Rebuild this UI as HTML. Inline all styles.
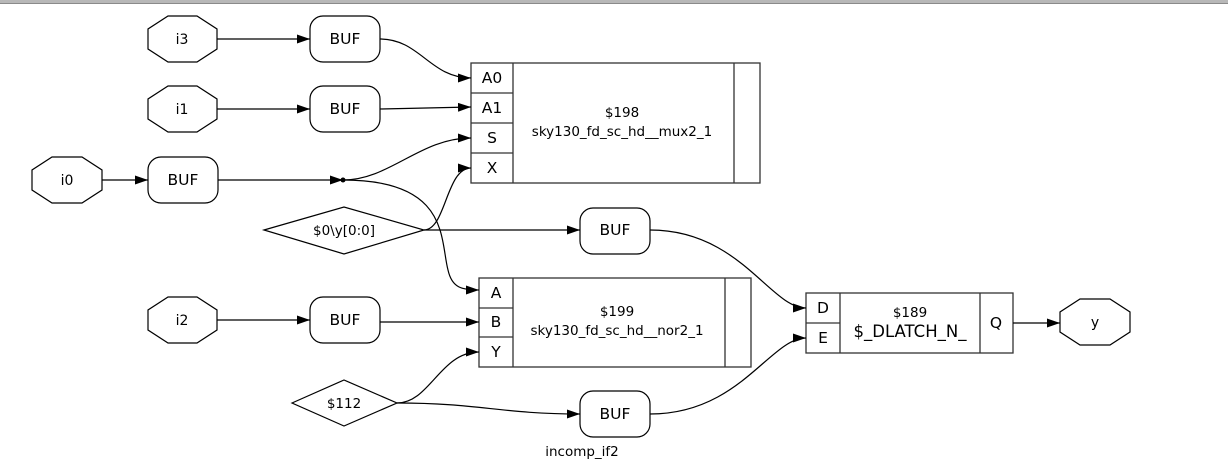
<!DOCTYPE html>
<html><head><meta charset="utf-8"><style>
html,body{margin:0;padding:0;background:#fff;}
svg{display:block;}
text{font-family:"DejaVu Sans","Liberation Sans",sans-serif;fill:#000;}
</style></head><body>
<svg width="1228" height="469" viewBox="0 0 1228 469" xmlns="http://www.w3.org/2000/svg">
<defs>
<marker id="a" markerWidth="13" markerHeight="9" refX="13" refY="4.5" orient="auto" markerUnits="userSpaceOnUse">
<path d="M0,0 L13,4.5 L0,9 z" fill="#000"/>
</marker>
</defs>
<rect x="0" y="0" width="1228" height="3" fill="#b8b8b8"/>
<rect x="0" y="3" width="1228" height="1" fill="#8a8a8a"/>
<g fill="none" stroke="#000" stroke-width="1.2">
<polygon points="168,16 197,16 217,29 217,49 197,62 168,62 148,49 148,29"/>
<polygon points="168,86 197,86 217,99 217,119 197,132 168,132 148,119 148,99"/>
<polygon points="52,157 82,157 102,170 102,190 82,203 52,203 32,190 32,170"/>
<polygon points="168,297 197,297 217,310 217,330 197,343 168,343 148,330 148,310"/>
<polygon points="1080,299 1110,299 1130,312 1130,332 1110,345 1080,345 1060,332 1060,312"/>
<rect x="310" y="16" width="70" height="46" rx="13"/>
<rect x="310" y="86" width="70" height="46" rx="13"/>
<rect x="148" y="157" width="70" height="46" rx="13"/>
<rect x="310" y="297" width="70" height="46" rx="13"/>
<rect x="580" y="208" width="70" height="46" rx="13"/>
<rect x="580" y="391" width="70" height="46" rx="13"/>
<polygon points="264,230 344,207 424,230 344,254"/>
<polygon points="292,403 344,380 397,403 344,426"/>
</g>
<g fill="none" stroke="#333" stroke-width="1.3">
<rect x="471" y="63" width="289" height="120"/>
<line x1="513" y1="63" x2="513" y2="183"/>
<line x1="734" y1="63" x2="734" y2="183"/>
<line x1="471" y1="93" x2="513" y2="93"/>
<line x1="471" y1="123" x2="513" y2="123"/>
<line x1="471" y1="153" x2="513" y2="153"/>
<rect x="479" y="278" width="272" height="89"/>
<line x1="513" y1="278" x2="513" y2="367"/>
<line x1="725" y1="278" x2="725" y2="367"/>
<line x1="479" y1="308" x2="513" y2="308"/>
<line x1="479" y1="337" x2="513" y2="337"/>
<rect x="806" y="293" width="207" height="60"/>
<line x1="840" y1="293" x2="840" y2="353"/>
<line x1="980" y1="293" x2="980" y2="353"/>
<line x1="806" y1="323" x2="840" y2="323"/>
</g>
<g fill="none" stroke="#000" stroke-width="1.2" marker-end="url(#a)">
<path d="M217,39 L310,39"/>
<path d="M217,109 L310,109"/>
<path d="M102,180 L148,180"/>
<path d="M217,320 L310,320"/>
<path d="M380,39 C420,39 430,78 471,78"/>
<path d="M380,109 L471,107"/>
<path d="M218,180 L343,180"/>
<path d="M343,180 C390,180 420,138 471,138"/>
<path d="M343,180 C450,180 440,240 448,270 C452,288 462,290 479,290"/>
<path d="M424,230 C446,230 446,168 471,168"/>
<path d="M424,230 L580,230"/>
<path d="M650,230 C740,230 770,308 806,308"/>
<path d="M380,322 L479,322"/>
<path d="M397,403 C430,403 440,352 479,352"/>
<path d="M397,403 C480,403 500,414 580,414"/>
<path d="M650,414 C740,414 770,338 806,338"/>
<path d="M1013,323 L1060,323"/>
</g>
<circle cx="343" cy="180" r="2.5" fill="#000"/>
<g font-size="14" text-anchor="middle">
<text x="182" y="44">i3</text>
<text x="182" y="114">i1</text>
<text x="67" y="185">i0</text>
<text x="182" y="325">i2</text>
<text x="1095" y="327">y</text>
</g>
<g font-size="15.5" text-anchor="middle">
<text x="345" y="44">BUF</text>
<text x="345" y="114">BUF</text>
<text x="183" y="185">BUF</text>
<text x="345" y="325">BUF</text>
<text x="615" y="235">BUF</text>
<text x="615" y="419">BUF</text>
<text x="492" y="83">A0</text>
<text x="492" y="113">A1</text>
<text x="492" y="143">S</text>
<text x="492" y="173">X</text>
<text x="496" y="298">A</text>
<text x="496" y="327">B</text>
<text x="496" y="357">Y</text>
<text x="823" y="313">D</text>
<text x="823" y="343">E</text>
<text x="996" y="328">Q</text>
</g>
<g font-size="13.5" text-anchor="middle">
<text x="622" y="117">$198</text>
<text x="622" y="136">sky130_fd_sc_hd__mux2_1</text>
<text x="617" y="316">$199</text>
<text x="617" y="335">sky130_fd_sc_hd__nor2_1</text>
<text x="910" y="317">$189</text>
<text x="344" y="235">$0\y[0:0]</text>
<text x="344" y="408">$112</text>
<text x="582" y="456">incomp_if2</text>
</g>
<text x="910" y="337" font-size="16.5" text-anchor="middle">$_DLATCH_N_</text>
</svg>
</body></html>
